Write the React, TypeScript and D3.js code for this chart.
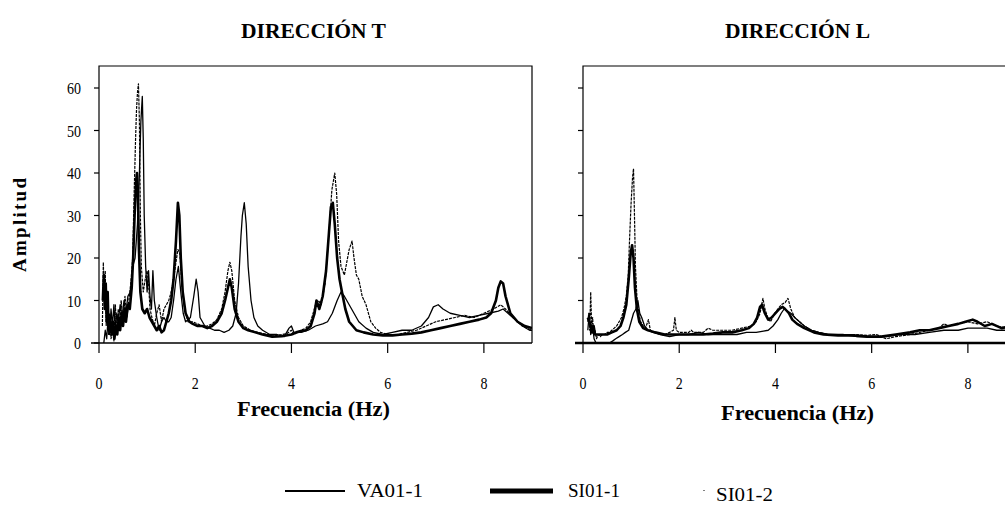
import React from "react";
import * as d3 from "d3";

type Pt = [number, number];

const FREQ_TICKS = [0, 2, 4, 6, 8];
const AMP_TICKS = [0, 10, 20, 30, 40, 50, 60];
const PANEL_TITLES = ["DIRECCIÓN T", "DIRECCIÓN L"];
const SERIES_NAMES = ["VA01-1", "SI01-1", "SI01-2"];

// ---------- DIRECCIÓN T ----------
const T_VA01_1: Pt[] = [
  [0.1, 0], [0.13, 3], [0.16, 1], [0.19, 6], [0.22, 2], [0.25, 8], [0.28, 4], [0.31, 9], [0.34, 3], [0.37, 7],
  [0.4, 5], [0.44, 9], [0.48, 6], [0.52, 10], [0.56, 7], [0.6, 11], [0.65, 12], [0.7, 18], [0.75, 20], [0.8, 28],
  [0.84, 40], [0.87, 52], [0.9, 58], [0.92, 48], [0.94, 30], [0.97, 18], [1.0, 12], [1.03, 17], [1.06, 11], [1.09, 8],
  [1.12, 17], [1.15, 10], [1.2, 6], [1.25, 3], [1.3, 5], [1.35, 6], [1.4, 5], [1.45, 5], [1.5, 6], [1.55, 10],
  [1.6, 15], [1.65, 18], [1.7, 12], [1.75, 7], [1.8, 5], [1.9, 6], [1.97, 11], [2.02, 15], [2.06, 12], [2.1, 6],
  [2.2, 4], [2.3, 3.5], [2.4, 3], [2.5, 3], [2.6, 2.5], [2.7, 3], [2.78, 4], [2.85, 7], [2.9, 14], [2.95, 25],
  [2.98, 30], [3.02, 33], [3.06, 28], [3.1, 18], [3.16, 10], [3.22, 6], [3.3, 4], [3.4, 3], [3.55, 2], [3.7, 2],
  [3.85, 1.5], [3.95, 3.5], [4.0, 4], [4.05, 2.5], [4.2, 2.5], [4.35, 3], [4.5, 4], [4.65, 4.5], [4.75, 5], [4.85, 7],
  [4.95, 10], [5.03, 12], [5.1, 11], [5.2, 9], [5.3, 7], [5.4, 5], [5.55, 3.5], [5.7, 2.5], [5.9, 2], [6.1, 2.5],
  [6.3, 3], [6.5, 3], [6.7, 4], [6.85, 6], [6.95, 8.5], [7.05, 9], [7.15, 8], [7.3, 7], [7.5, 6.5], [7.7, 6],
  [7.9, 6.5], [8.1, 7], [8.3, 7.5], [8.4, 8], [8.5, 7], [8.65, 5.5], [8.8, 4], [8.95, 3], [9.0, 3],
];

const T_SI01_1: Pt[] = [
  [0.08, 10], [0.1, 16], [0.12, 8], [0.14, 14], [0.16, 5], [0.18, 12], [0.2, 3], [0.23, 6], [0.26, 2], [0.29, 5],
  [0.32, 1], [0.35, 4], [0.38, 2], [0.41, 6], [0.44, 3], [0.47, 7], [0.5, 4], [0.53, 8], [0.56, 5], [0.6, 9],
  [0.64, 8], [0.68, 13], [0.71, 20], [0.74, 30], [0.77, 38], [0.79, 40], [0.81, 35], [0.83, 22], [0.86, 12], [0.9, 8],
  [0.95, 7], [1.0, 8], [1.05, 6], [1.1, 5], [1.15, 4], [1.2, 3], [1.25, 4], [1.3, 2.5], [1.35, 3], [1.4, 5],
  [1.45, 7], [1.5, 10], [1.55, 15], [1.6, 24], [1.64, 33], [1.67, 30], [1.7, 20], [1.74, 12], [1.8, 7], [1.88, 5],
  [1.95, 4.5], [2.05, 4], [2.15, 4], [2.25, 3.5], [2.35, 4], [2.45, 5], [2.55, 7], [2.62, 10], [2.68, 13], [2.72, 15],
  [2.76, 13], [2.82, 8], [2.9, 5], [3.0, 3.5], [3.1, 3], [3.25, 2.5], [3.4, 2], [3.6, 1.5], [3.8, 1.6], [4.0, 2],
  [4.1, 2.5], [4.2, 2.8], [4.3, 3], [4.4, 4], [4.48, 7], [4.52, 10], [4.58, 8], [4.65, 11], [4.72, 17], [4.78, 26],
  [4.82, 32], [4.86, 33], [4.9, 28], [4.95, 20], [5.0, 15], [5.05, 12], [5.12, 8], [5.2, 5], [5.35, 3], [5.5, 2.5],
  [5.7, 2], [5.9, 1.8], [6.1, 1.8], [6.3, 2], [6.5, 2.2], [6.7, 2.5], [6.9, 3], [7.1, 3.5], [7.3, 4], [7.5, 4.5],
  [7.7, 5], [7.9, 5.5], [8.05, 6], [8.15, 7], [8.25, 10], [8.3, 13], [8.35, 14.5], [8.4, 14], [8.45, 11], [8.55, 7],
  [8.7, 5], [8.85, 4], [9.0, 3.5],
];

const T_SI01_2: Pt[] = [
  [0.07, 4], [0.09, 19], [0.11, 10], [0.13, 17], [0.15, 4], [0.17, 9], [0.2, 2], [0.22, 7], [0.25, 1], [0.28, 3],
  [0.31, 0.5], [0.34, 9], [0.37, 2], [0.4, 8], [0.43, 3], [0.46, 10], [0.5, 5], [0.54, 11], [0.58, 6], [0.62, 10],
  [0.66, 14], [0.7, 20], [0.73, 35], [0.76, 48], [0.78, 55], [0.8, 59], [0.82, 61], [0.84, 52], [0.86, 30], [0.88, 18],
  [0.92, 12], [0.96, 15], [1.0, 17], [1.03, 14], [1.06, 8], [1.1, 6], [1.15, 4], [1.2, 7], [1.25, 9], [1.3, 5],
  [1.35, 8], [1.4, 9], [1.45, 10], [1.5, 12], [1.55, 15], [1.6, 19], [1.64, 22], [1.68, 21], [1.72, 14], [1.78, 8],
  [1.85, 5], [1.95, 5], [2.05, 4.5], [2.15, 4], [2.25, 4], [2.35, 4.5], [2.45, 5.5], [2.55, 8], [2.62, 12], [2.68, 17],
  [2.72, 19], [2.76, 17], [2.82, 10], [2.9, 6], [3.0, 4], [3.15, 3], [3.3, 2.5], [3.5, 2], [3.7, 1.8], [3.9, 2.2],
  [4.0, 3], [4.05, 2], [4.2, 3], [4.3, 3.5], [4.4, 5], [4.5, 9], [4.56, 10], [4.62, 9], [4.7, 14], [4.78, 26],
  [4.84, 36], [4.9, 40], [4.94, 35], [4.98, 24], [5.03, 18], [5.1, 16], [5.15, 19], [5.2, 22], [5.26, 24], [5.3, 20],
  [5.35, 16], [5.4, 15], [5.47, 11], [5.55, 9], [5.65, 5], [5.75, 3.5], [5.85, 2.5], [6.0, 2], [6.2, 2], [6.4, 2.5],
  [6.6, 3], [6.8, 4], [7.0, 5], [7.2, 5.5], [7.4, 6], [7.6, 6.5], [7.8, 6], [8.0, 7], [8.2, 8], [8.35, 9],
  [8.45, 8], [8.6, 6], [8.8, 4], [9.0, 3],
];

// ---------- DIRECCIÓN L ----------
const L_VA01_1: Pt[] = [
  [0.1, 3], [0.13, 7], [0.16, 2], [0.2, 4], [0.23, 1], [0.27, 0], [0.35, 0], [0.45, 0], [0.55, 0], [0.62, 0.5],
  [0.68, 1], [0.75, 1.5], [0.82, 2], [0.88, 2.5], [0.95, 3], [1.0, 5], [1.05, 7], [1.1, 8], [1.14, 10], [1.18, 7],
  [1.22, 6], [1.28, 4], [1.35, 3], [1.45, 2.5], [1.6, 2], [1.8, 1.5], [2.0, 2], [2.2, 2], [2.4, 2.5], [2.6, 2],
  [2.8, 2], [3.0, 2], [3.2, 2], [3.4, 2.5], [3.6, 2.5], [3.75, 2.8], [3.85, 3], [3.95, 4], [4.05, 5.5], [4.12, 7],
  [4.18, 8], [4.25, 7.5], [4.32, 7], [4.4, 6], [4.5, 5], [4.6, 4], [4.75, 3], [4.9, 2.5], [5.1, 2], [5.4, 2],
  [5.7, 1.5], [6.0, 1.5], [6.3, 1.5], [6.6, 2], [6.9, 2], [7.2, 2.5], [7.5, 3], [7.8, 3], [8.0, 3.5], [8.2, 3.5],
  [8.4, 3.5], [8.6, 3], [8.8, 3], [9.0, 3],
];

const L_SI01_1: Pt[] = [
  [0.1, 6], [0.13, 5], [0.16, 4], [0.19, 2.5], [0.22, 4], [0.25, 2], [0.3, 2], [0.35, 2], [0.4, 2], [0.5, 2],
  [0.6, 2.5], [0.7, 3], [0.78, 4], [0.84, 6], [0.9, 9], [0.95, 15], [0.99, 21], [1.02, 23], [1.05, 20], [1.08, 13],
  [1.12, 8], [1.17, 5], [1.25, 3.5], [1.35, 3], [1.5, 2.5], [1.7, 2], [1.9, 2], [2.1, 2], [2.3, 2], [2.5, 2],
  [2.7, 2.2], [2.9, 2.5], [3.1, 2.5], [3.3, 3], [3.45, 3.5], [3.55, 4.5], [3.62, 6], [3.68, 8.5], [3.72, 9], [3.78, 7],
  [3.85, 5.5], [3.92, 6], [4.0, 7], [4.08, 8], [4.15, 8.5], [4.2, 8], [4.28, 7], [4.35, 5.5], [4.45, 4.5], [4.6, 3.5],
  [4.8, 2.5], [5.0, 2], [5.3, 1.8], [5.6, 1.8], [5.9, 1.5], [6.2, 1.5], [6.5, 2], [6.8, 2.5], [7.0, 3], [7.2, 3],
  [7.4, 3.5], [7.6, 4], [7.8, 4.5], [7.95, 5], [8.1, 5.5], [8.2, 5], [8.35, 4], [8.5, 4.5], [8.7, 3.5], [8.9, 4],
  [9.0, 3.5],
];

const L_SI01_2: Pt[] = [
  [0.1, 5], [0.12, 7], [0.14, 3], [0.16, 12], [0.18, 4], [0.2, 6], [0.22, 2], [0.25, 3], [0.28, 1], [0.32, 2],
  [0.36, 1.5], [0.4, 2], [0.45, 2], [0.5, 2.5], [0.55, 2.5], [0.6, 3], [0.65, 3.5], [0.7, 4], [0.75, 5], [0.8, 6],
  [0.85, 8], [0.9, 11], [0.94, 16], [0.97, 25], [1.0, 33], [1.03, 39], [1.05, 41], [1.07, 30], [1.09, 18], [1.12, 11],
  [1.16, 7], [1.2, 5], [1.25, 4], [1.3, 3.5], [1.36, 5.5], [1.4, 3], [1.5, 2.5], [1.6, 2], [1.7, 2], [1.8, 2.5],
  [1.88, 3], [1.91, 6], [1.94, 3], [2.0, 2.5], [2.2, 2.5], [2.25, 3], [2.3, 2.5], [2.5, 2.5], [2.6, 3.5], [2.7, 3],
  [2.9, 3], [3.1, 3], [3.3, 3.5], [3.5, 4], [3.6, 5], [3.68, 7], [3.74, 10.5], [3.78, 8], [3.84, 6], [3.9, 5],
  [3.98, 7], [4.05, 8], [4.12, 9], [4.2, 9.5], [4.26, 10.5], [4.32, 8], [4.4, 6], [4.5, 5], [4.6, 4], [4.75, 3],
  [4.9, 2.5], [5.1, 2], [5.3, 2], [5.6, 2], [5.9, 1.8], [6.1, 2], [6.3, 1], [6.5, 1.5], [6.8, 2], [7.0, 2.5],
  [7.2, 3], [7.4, 3.5], [7.5, 4.5], [7.6, 4], [7.8, 4.5], [8.0, 5], [8.2, 4.5], [8.4, 5], [8.6, 4], [8.8, 3.5],
  [9.0, 4],
];

const FONT = "'Liberation Serif', 'DejaVu Serif', serif";
const TOP = 66;
const BOTTOM = 343;
const PLOT_W = 433;

function Panel({ x0, title, va, si1, si2, showYLabels, id, xLabelY }: {
  x0: number; title: string; va: Pt[]; si1: Pt[]; si2: Pt[]; showYLabels: boolean; id: string; xLabelY: number;
}) {
  const x = d3.scaleLinear().domain([0, 9]).range([x0, x0 + PLOT_W]);
  const y = d3.scaleLinear().domain([0, (BOTTOM - TOP) / 4.25]).range([BOTTOM, TOP]);
  const line = d3.line<Pt>().x((d) => x(d[0])).y((d) => y(d[1]));
  const cx = x0 + PLOT_W / 2 - 2;
  return (
    <g>
      <defs>
        <clipPath id={id}>
          <rect x={x0} y={TOP} width={PLOT_W} height={BOTTOM - TOP + 1} />
        </clipPath>
      </defs>
      <text x={cx} y={38} textAnchor="middle" style={{ fontFamily: FONT }} fontWeight="bold" fontSize={20}
        textLength={145} lengthAdjust="spacingAndGlyphs">{title}</text>
      <path d={`M${x0},${BOTTOM}V${TOP}H${x0 + PLOT_W}V${BOTTOM}`} fill="none" stroke="#000" strokeWidth={1.2} />
      <line x1={x0 - 8} x2={x0 + PLOT_W} y1={BOTTOM} y2={BOTTOM} stroke="#000" strokeWidth={showYLabels ? 1.5 : 2.5} />
      {AMP_TICKS.map((t) => (
        <g key={t}>
          <line x1={x0 - 5} x2={x0} y1={y(t)} y2={y(t)} stroke="#000" strokeWidth={1.2} />
          {showYLabels && (
            <text x={x0 - 18} y={y(t) + 6} textAnchor="end" style={{ fontFamily: FONT }} fontSize={17}
              textLength={t === 0 ? 7 : 14} lengthAdjust="spacingAndGlyphs">{t}</text>
          )}
        </g>
      ))}
      {FREQ_TICKS.map((t) => (
        <g key={t}>
          <line x1={x(t)} x2={x(t)} y1={BOTTOM} y2={BOTTOM + 10} stroke="#000" strokeWidth={1.2} />
          <text x={x(t)} y={389} textAnchor="middle" style={{ fontFamily: FONT }} fontSize={17}
            textLength={7} lengthAdjust="spacingAndGlyphs">{t}</text>
        </g>
      ))}
      <g clipPath={`url(#${id})`} fill="none" stroke="#000" strokeLinejoin="round">
        <path d={line(va) || ""} strokeWidth={1.3} />
        <path d={line(si2) || ""} strokeWidth={1.2} strokeDasharray="3,1" />
        <path d={line(si1) || ""} strokeWidth={2.6} />
      </g>
      <text x={cx} y={xLabelY} textAnchor="middle" style={{ fontFamily: FONT }} fontWeight="bold" fontSize={20}
        textLength={153} lengthAdjust="spacingAndGlyphs">Frecuencia (Hz)</text>
    </g>
  );
}

export default function App() {
  return (
    <svg width={1005} height={505} style={{ position: "absolute", left: 0, top: 0, background: "#fff" }}>
      <rect width={1005} height={505} fill="#fff" />
      <text transform="translate(26,225) rotate(-90)" textAnchor="middle" style={{ fontFamily: FONT }} fontWeight="bold"
        fontSize={19} textLength={94} lengthAdjust="spacing">Amplitud</text>
      <Panel id="clipT" x0={99} title={PANEL_TITLES[0]} va={T_VA01_1} si1={T_SI01_1} si2={T_SI01_2} showYLabels={true} xLabelY={416} />
      <Panel id="clipL" x0={583} title={PANEL_TITLES[1]} va={L_VA01_1} si1={L_SI01_1} si2={L_SI01_2} showYLabels={false} xLabelY={420} />
      <line x1={285} x2={345} y1={491} y2={491} stroke="#000" strokeWidth={2} />
      <text x={357} y={497} style={{ fontFamily: FONT }} fontSize={18} textLength={66} lengthAdjust="spacingAndGlyphs">{SERIES_NAMES[0]}</text>
      <line x1={490} x2={553} y1={491} y2={491} stroke="#000" strokeWidth={5} />
      <text x={568} y={497} style={{ fontFamily: FONT }} fontSize={18} textLength={52} lengthAdjust="spacingAndGlyphs">{SERIES_NAMES[1]}</text>
      <rect x={703.5} y={490} width={1} height={1} fill="#000" />
      <text x={716} y={501} style={{ fontFamily: FONT }} fontSize={18} textLength={57} lengthAdjust="spacingAndGlyphs">{SERIES_NAMES[2]}</text>
    </svg>
  );
}
